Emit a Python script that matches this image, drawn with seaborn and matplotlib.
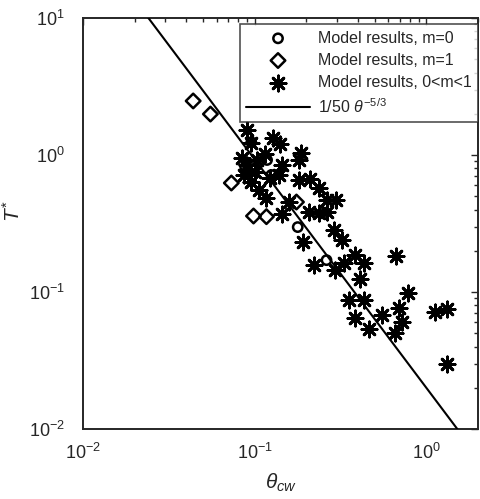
import numpy as np
import pandas as pd
import seaborn as sns
import matplotlib.pyplot as plt

# Model results, m=0
theta_m0 = [0.0955, 0.088, 0.118, 0.125, 0.178, 0.262]
T_m0 = [1.24, 0.817, 0.92, 0.715, 0.298, 0.171]

# Model results, m=1
theta_m1 = [0.0438, 0.0552, 0.0731, 0.0984, 0.117, 0.175]
T_m1 = [2.48, 1.99, 0.625, 0.359, 0.355, 0.454]

# Model results, 0<m<1
theta_mid = [0.0906, 0.0955, 0.128, 0.141, 0.115, 0.187, 0.182, 0.0906, 0.101, 0.145,
             0.139, 0.122, 0.0955, 0.106, 0.117, 0.182, 0.211, 0.238, 0.265, 0.298,
             0.159, 0.145, 0.208, 0.238, 0.265, 0.291, 0.324, 0.19, 0.222, 0.295,
             0.333, 0.386, 0.435, 0.668, 0.412, 0.356, 0.435, 0.785, 0.386, 0.553,
             0.697, 0.466, 0.652, 0.725, 1.127, 1.324, 1.324, 0.0847, 0.0869, 0.1035]
T_mid = [1.52, 1.22, 1.33, 1.20, 1.02, 1.03, 0.92, 0.845, 0.752, 0.845,
         0.715, 0.68, 0.635, 0.556, 0.485, 0.657, 0.668, 0.574, 0.47, 0.47,
         0.454, 0.371, 0.384, 0.378, 0.384, 0.284, 0.24, 0.232, 0.157, 0.145,
         0.163, 0.186, 0.163, 0.183, 0.124, 0.0875, 0.0875, 0.0984, 0.0646, 0.068,
         0.0764, 0.0537, 0.0502, 0.0604, 0.0715, 0.0752, 0.0298, 0.95, 0.715, 0.92]

# reference line T = 1/50 theta^(-5/3)
coef = 1 / 50
expo = -5 / 3
theta_line = np.array([0.01, 2.0])
T_line = coef * theta_line ** expo

sns.set_style("white")
plt.rcParams['font.family'] = ['Liberation Sans', 'DejaVu Sans']
plt.rcParams['mathtext.fontset'] = 'custom'
plt.rcParams['mathtext.it'] = 'Liberation Sans:italic'
plt.rcParams['mathtext.rm'] = 'Liberation Sans'

fig = plt.figure(figsize=(4.8, 4.99), dpi=100)
ax = fig.add_axes([0.173, 0.140, 0.823, 0.824])

sns.scatterplot(x=theta_m0, y=T_m0, ax=ax, marker='o', s=45, facecolor='none',
                edgecolor='black', linewidth=1.8, label='Model results, m=0', zorder=3)
sns.scatterplot(x=theta_m1, y=T_m1, ax=ax, marker='D', s=55, facecolor='none',
                edgecolor='black', linewidth=1.8, label='Model results, m=1', zorder=3)
sns.scatterplot(x=theta_mid, y=T_mid, ax=ax, marker=(8, 2, 0), s=120, color='black',
                edgecolor='black', linewidth=2.0, label='Model results, 0<m<1', zorder=3)
sns.lineplot(x=theta_line, y=T_line, ax=ax, color='black', linewidth=1.5,
             label=r'1/50 $\theta^{-5/3}$', zorder=4)

ax.set_xscale('log')
ax.set_yscale('log')
ax.set_xlim(0.01, 2)
ax.set_ylim(0.01, 10)

ax.set_xlabel(r'$\theta_{cw}$', fontsize=15, labelpad=6, color='#262626')
ax.set_ylabel(r'$T^{*}$', fontsize=15, color='#262626')
ax.yaxis.set_label_coords(-0.15, 0.53)

for sp in ax.spines.values():
    sp.set_color('#262626')
    sp.set_linewidth(1.4)
ax.tick_params(which='both', direction='in', top=True, right=True, colors='#262626',
               labelsize=13)
ax.tick_params(which='major', length=5, width=1.0)
ax.tick_params(which='minor', length=3, width=1.0)
ax.tick_params(axis='x', pad=10)
ax.tick_params(axis='y', pad=13)

leg = ax.legend(loc='upper right', bbox_to_anchor=(1.0, 0.985), fontsize=11.5,
                frameon=True, fancybox=False, edgecolor='#262626', borderaxespad=0,
                handlelength=4.0, handletextpad=0.5, labelspacing=0.45,
                borderpad=0.4)
leg.get_frame().set_linewidth(1.2)

fig.savefig('out.png', dpi=100)
